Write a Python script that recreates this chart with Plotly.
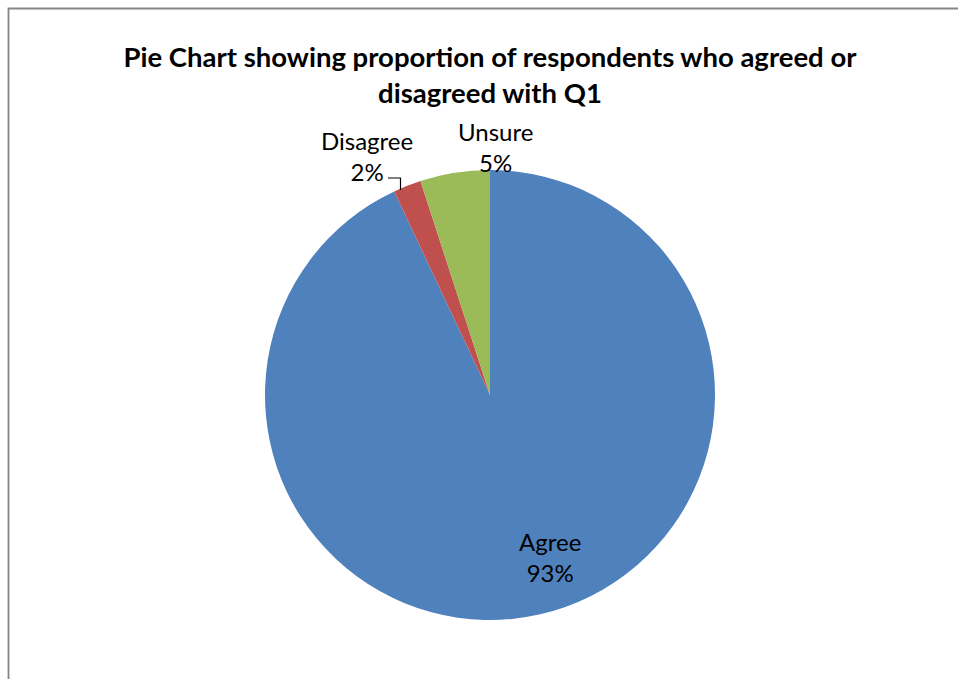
import plotly.graph_objects as go

categories = ["Agree", "Disagree", "Unsure"]
values = [93, 2, 5]
colors = ["#4F81BD", "#C0504D", "#9BBB59"]

W, H = 958, 679
FONT = "Lato, Carlito, Calibri, sans-serif"

# pie geometry (pixels)
cx, cy, r = 490, 395, 225

fig = go.Figure(go.Pie(
    labels=categories,
    values=values,
    sort=False,
    direction="clockwise",
    rotation=0,
    marker=dict(colors=colors, line=dict(width=0)),
    textinfo="none",
    domain=dict(x=[(cx - r) / W, (cx + r) / W], y=[1 - (cy + r) / H, 1 - (cy - r) / H]),
    showlegend=False,
    hoverinfo="label+percent",
))

total = sum(values)
label_pos = {  # label centres in pixels
    "Agree": (550, 557),
    "Disagree": (367, 156),
    "Unsure": (496, 147),
}
for cat, val in zip(categories, values):
    px, py = label_pos[cat]
    fig.add_annotation(x=px / W, y=1 - py / H, xref="paper", yref="paper",
                       text=f"{cat}<br>{val / total:.0%}", showarrow=False,
                       font=dict(family=FONT, size=24, color="black"), align="center",
                       xanchor="center", yanchor="middle")

# leader line for Disagree
fig.add_shape(type="path", xref="paper", yref="paper",
              path=f"M {388 / W} {1 - 178 / H} L {400.5 / W} {1 - 178 / H} L {400.5 / W} {1 - 190 / H}",
              line=dict(color="black", width=1.2))

# chart frame
fig.add_shape(type="rect", xref="paper", yref="paper",
              x0=8.5 / W, x1=1.05, y0=-0.05, y1=1 - 8.5 / H,
              line=dict(color="#868686", width=1.8))

fig.update_layout(
    width=W, height=H,
    margin=dict(l=0, r=0, t=0, b=0),
    paper_bgcolor="white",
    plot_bgcolor="white",
    title=dict(text="<b>Pie Chart showing proportion of respondents who agreed or<br>disagreed with Q1</b>",
               x=490 / W, xanchor="center", y=1 - 67 / H, yanchor="middle",
               font=dict(family=FONT, size=27.5, color="black")),
)

fig.write_html("out.html", config={"displayModeBar": False},
               post_script="document.body.style.margin='0px';document.body.style.overflow='hidden';")
